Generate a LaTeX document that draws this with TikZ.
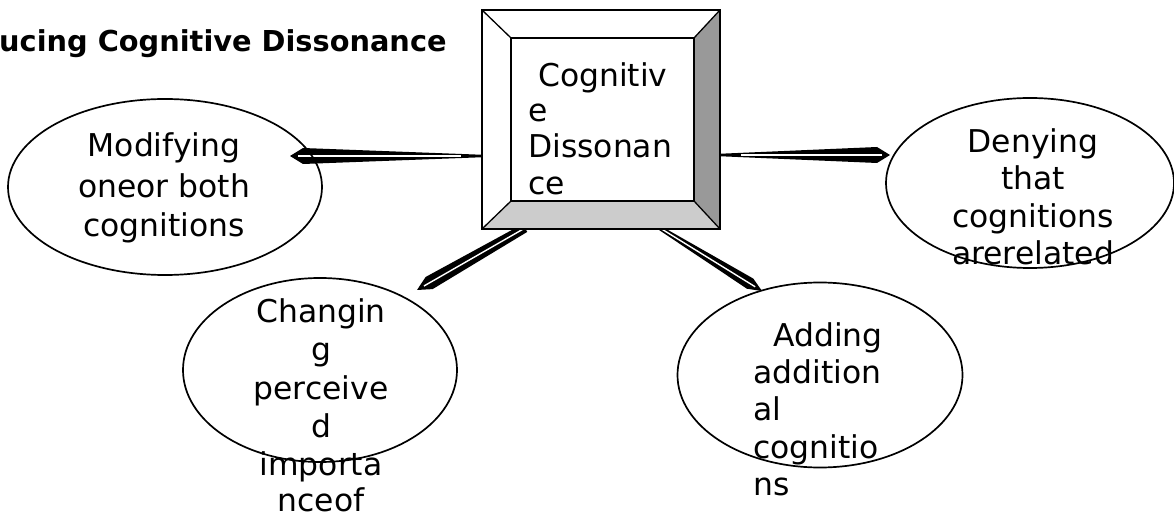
\documentclass[tikz,border=0pt]{standalone}
\usepackage{fontspec}
\setmainfont{DejaVu Sans}
\usetikzlibrary{calc,shapes.geometric}
\definecolor{bevdark}{HTML}{999999}
\definecolor{bevlight}{HTML}{CCCCCC}
% #1 start, #2 tip, #3 start half width, #4 head half width, #5 head length,
% #6 white line start (from tip), #7 white line end (from start)
\newcommand{\needle}[7]{%
  \fill[black] ($(#1)!#3!90:(#2)$) -- ($(#2)!#5!(#1)!#4!-90:(#1)$) -- (#2)
    -- ($(#2)!#5!(#1)!#4!90:(#1)$) -- ($(#1)!#3!-90:(#2)$) -- cycle;
  \draw[white,line width=1.4pt] ($(#2)!#6!(#1)$) -- ($(#1)!#7!(#2)$);
}
\begin{document}
\begin{tikzpicture}[x=1pt,y=-1pt,
  oval/.style={ellipse,draw,line width=1.7pt,inner sep=0pt},
  txt/.style={inner sep=0pt,anchor=base,font=\fontsize{31.4}{37}\selectfont},
  txtl/.style={txt,anchor=base west},
  ttl/.style={inner sep=0pt,anchor=base west,font=\fontsize{28.8}{34}\selectfont\bfseries}]
\useasboundingbox (0,0) rectangle (1174,518);
\fill[white] (0,0) rectangle (1174,518);

% central box
\node[draw,line width=2pt,minimum width=236pt,minimum height=217pt,inner sep=0pt] (cd) at (601,119.5) {};

% connector end points
\coordinate (sL) at (483,156);
\coordinate (tL) at (290,156);
\coordinate (sR) at (719,155);
\coordinate (tR) at (890,155);
\coordinate (sBL) at (525,228);
\coordinate (tBL) at (417,290);
\coordinate (sBR) at (660,228);
\coordinate (tBR) at (762,291);

\needle{sL}{tL}{1.2pt}{8pt}{13pt}{8pt}{22pt}
\needle{sR}{tR}{1.2pt}{8pt}{13pt}{8pt}{22pt}
\needle{sBL}{tBL}{4.5pt}{7pt}{14pt}{8pt}{0pt}
\needle{sBR}{tBR}{2.2pt}{6pt}{14pt}{8pt}{0pt}

% ellipses
\node[oval,minimum width=314pt,minimum height=176pt] (mod) at (165,187) {};
\node[oval,minimum width=288pt,minimum height=170pt] (den) at (1030,183) {};
\node[oval,minimum width=274pt,minimum height=184pt] (chg) at (320,370) {};
\node[oval,minimum width=285pt,minimum height=185pt] (add) at (820,375) {};

% box bevels
\fill[white] (cd.north west) rectangle (cd.south east);
\fill[bevdark] (cd.north east) -- (694,38) -- (694,201) -- (cd.south east) -- cycle;
\fill[bevlight] (cd.south west) -- (511,201) -- (694,201) -- (cd.south east) -- cycle;
\draw[line width=1.3pt] (cd.north west) -- (511,38) (cd.north east) -- (694,38)
  (cd.south west) -- (511,201) (cd.south east) -- (694,201);
\draw[line width=1.7pt] (511,38) rectangle (694,201);
\draw[line width=2.2pt] (cd.north west) rectangle (cd.south east);

% title
\node[ttl] (title) at (-1,52) {ucing Cognitive Dissonance};

% box text
\node[txtl] (cd1) at (538,87) {Cognitiv};
\node[txtl] (cd2) at (528,122) {e};
\node[txtl] (cd3) at (528,158) {Dissonan};
\node[txtl] (cd4) at (528,195) {ce};

% left ellipse text
\node[txt] (mod1) at (164,157) {Modifying};
\node[txt] (mod2) at (164,198) {oneor both};
\node[txt] (mod3) at (164,237) {cognitions};

% right ellipse text
\node[txt] (den1) at (1033,153) {Denying};
\node[txt] (den2) at (1033,190) {that};
\node[txt] (den3) at (1033,228) {cognitions};
\node[txt] (den4) at (1033,265) {arerelated};

% bottom-left ellipse text
\node[txt] (chg1) at (321,322) {Changin};
\node[txt] (chg2) at (321,360) {g};
\node[txt] (chg3) at (321,399) {perceive};
\node[txt] (chg4) at (321,437.5) {d};
\node[txt] (chg5) at (321,475.5) {importa};
\node[txt] (chg6) at (321,511.5) {nceof};

% bottom-right ellipse text
\node[txtl] (add1) at (773,346) {Adding};
\node[txtl] (add2) at (753,383) {addition};
\node[txtl] (add3) at (753,420.5) {al};
\node[txtl] (add4) at (753,458) {cognitio};
\node[txtl] (add5) at (753,495) {ns};
\end{tikzpicture}
\end{document}
